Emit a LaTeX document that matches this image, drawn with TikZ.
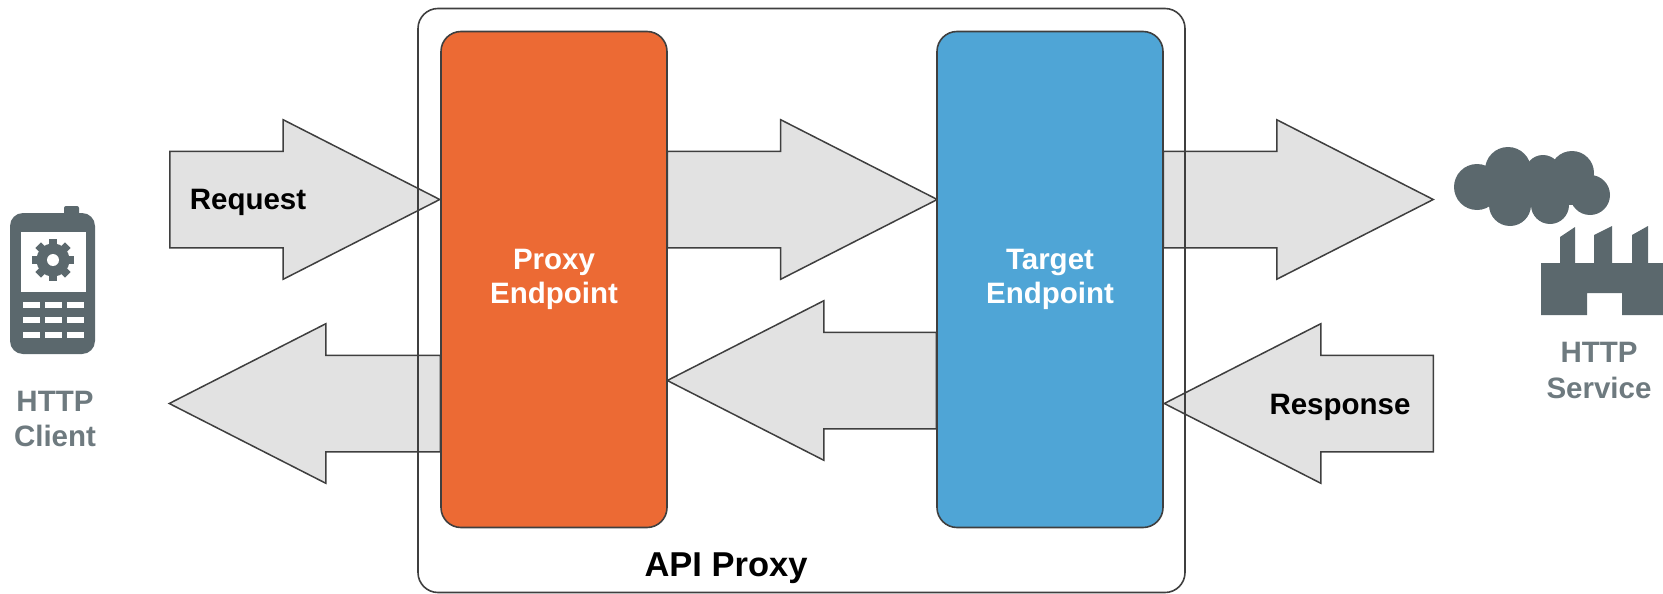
\documentclass[tikz,border=0pt]{standalone}
\usepackage{fontspec}
\setmainfont{Liberation Sans}
\usetikzlibrary{shapes.arrows}

\definecolor{iconGrey}{HTML}{5B686D}
\definecolor{labelGrey}{HTML}{6E7A7F}
\definecolor{arrowGrey}{HTML}{E2E2E2}
\definecolor{edgeGrey}{HTML}{3F3F3F}
\definecolor{proxyOrange}{HTML}{EC6A34}
\definecolor{targetBlue}{HTML}{4FA5D6}

\newcommand{\shaft}{\rule{0pt}{95pt}}

\tikzset{
    flow/.style={draw=edgeGrey, fill=arrowGrey, line width=1.5pt, single arrow, inner sep=0pt,
        minimum width=158pt, minimum height=269pt, single arrow head extend=31.5pt,
        single arrow tip angle=54, anchor=tail},
    back/.style={flow, shape border rotate=180},
    endpoint/.style={draw=edgeGrey, line width=1.6pt, rounded corners=20pt, minimum width=226pt,
        minimum height=496pt, align=center, text=white, font=\fontsize{29.5}{34}\selectfont\bfseries},
    flowlabel/.style={font=\fontsize{29.5}{35}\selectfont\bfseries},
    iconlabel/.style={align=center, text=labelGrey, font=\fontsize{29.5}{35.5}\selectfont\bfseries}
}

\begin{document}
\begin{tikzpicture}[x=1pt,y=-1pt]
            \useasboundingbox (0,0) rectangle (1663,594);

            % arrows go under the outer box
            \node[flow, minimum height=270pt] (RequestIn) at (169,199.5) {\shaft};
            \node[flow, minimum height=270pt] (ProxyToTarget) at (666.5,199.5) {\shaft};
            \node[flow, minimum height=270pt] (TargetOut) at (1162.5,199.5) {\shaft};
            \node[back, minimum height=271pt] (ResponseOut) at (441,403.5) {\shaft};
            \node[back] (TargetToProxy) at (937,380.5) {\shaft};
            \node[back] (ResponseIn) at (1434,403.5) {\shaft};

            \node[draw=edgeGrey, line width=1.6pt, rounded corners=20pt, minimum width=767pt, minimum height=584pt] (ApiProxy) at (801.5,300.5) {};
            \node[endpoint, fill=proxyOrange] (ProxyEndpoint) at (554,279.5) {\raisebox{-3.5pt}{Proxy}\\\raisebox{-3.5pt}{Endpoint}};
            \node[endpoint, fill=targetBlue] (TargetEndpoint) at (1050,279.5) {\raisebox{-3.5pt}{Target}\\\raisebox{-3.5pt}{Endpoint}};

            \node[flowlabel] (Request) at (248,202) {Request};
            \node[flowlabel] (Response) at (1340,407) {Response};
            \node[font=\fontsize{34.5}{40}\selectfont\bfseries] (ApiProxyLabel) at (726,568) {API Proxy};
            \node[iconlabel] (Client) at (55,419) {HTTP\\Client};
            \node[iconlabel] (Service) at (1599,370.5) {HTTP\\Service};

            % phone
            \fill[iconGrey, rounded corners=13pt] (10,213) rectangle (95,354);
            \fill[iconGrey, rounded corners=2pt] (64,206) rectangle (79,220);
            \fill[white] (21,232) rectangle (86,292);
            \fill[iconGrey] (53,260) circle (16.5);
            \foreach \a in {0,45,...,315}
                \fill[iconGrey, rotate around={\a:(53,260)}] (49,239) rectangle (57,250);
            \fill[white] (53,260) circle (6);
            \foreach \col in {23,45,67}
                \foreach \row in {302,317,332}
                    \fill[white] (\col,\row) rectangle ++(17,6);

            % cloud
            \fill[iconGrey] (1477,187) circle (23);
            \fill[iconGrey] (1508,170) circle (23);
            \fill[iconGrey] (1510,205) circle (21);
            \fill[iconGrey] (1550,205) circle (19);
            \fill[iconGrey] (1543,173) circle (18);
            \fill[iconGrey] (1572,173) circle (22);
            \fill[iconGrey] (1590,195) circle (20);
            \fill[iconGrey] (1500,175) rectangle (1580,205);
            \fill[iconGrey] (1492,155) rectangle (1524,180);

            % factory
            \fill[iconGrey] (1541,315) -- (1541,263) -- (1560,263) -- (1560,237) -- (1575,227) -- (1575,263)
                -- (1594,263) -- (1594,235) -- (1612,226) -- (1612,263)
                -- (1632,263) -- (1632,235) -- (1648,226) -- (1648,263)
                -- (1663,263) -- (1663,315) -- (1622,315) -- (1622,293) -- (1587,293) -- (1587,315) -- cycle;
        \end{tikzpicture}
\end{document}
